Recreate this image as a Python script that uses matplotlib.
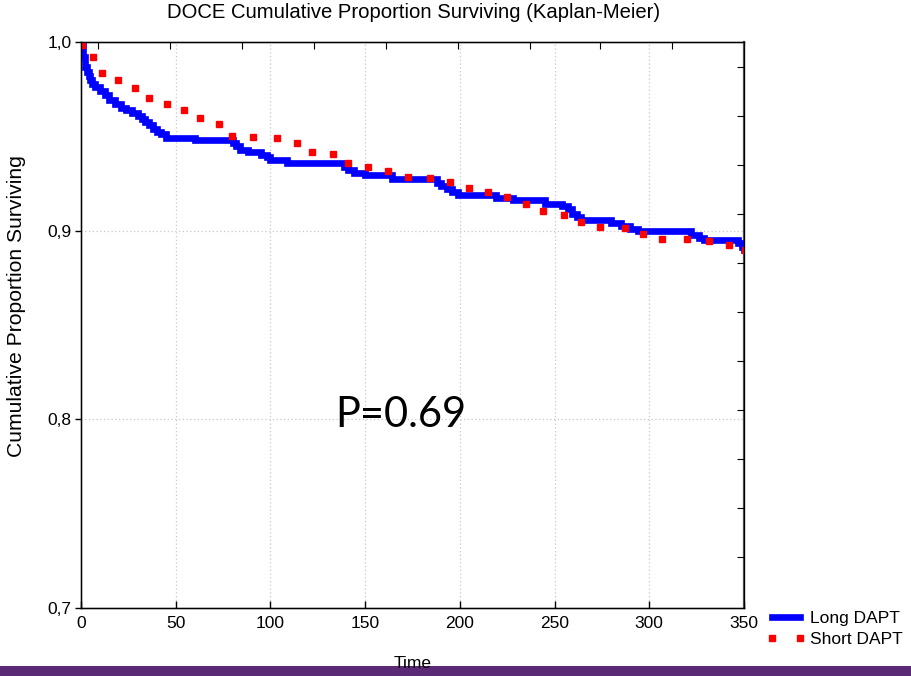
import matplotlib
matplotlib.use("Agg")
import matplotlib.pyplot as plt
from matplotlib.lines import Line2D
from matplotlib.patches import Rectangle
from matplotlib.ticker import FuncFormatter

plt.rcParams['font.family'] = ['Liberation Sans', 'DejaVu Sans']

# ---- data ----
long_t = [0, 1, 2, 3, 4, 5, 6, 7.5, 10, 12.5, 15, 18, 21, 24, 27, 30, 32, 34, 36, 38,
          40, 42, 45, 60, 80, 82, 84, 88, 95, 98, 100, 109, 139, 141, 144, 150, 164,
          188, 190, 193, 196, 199, 219, 228, 245, 254, 257, 259, 262, 264, 280, 285,
          290, 294, 322, 326, 329, 347, 349, 350]
long_s = [1.0, 0.992, 0.987, 0.984, 0.982, 0.980, 0.978, 0.976, 0.974, 0.972, 0.969,
          0.967, 0.965, 0.964, 0.9625, 0.961, 0.959, 0.9575, 0.956, 0.954, 0.9525,
          0.951, 0.949, 0.948, 0.9465, 0.945, 0.943, 0.9415, 0.940, 0.939, 0.9375,
          0.9358, 0.9335, 0.932, 0.9305, 0.9293, 0.9275, 0.9255, 0.9235, 0.922,
          0.9205, 0.919, 0.9175, 0.916, 0.914, 0.9132, 0.9115, 0.909, 0.907, 0.9055,
          0.9038, 0.9027, 0.901, 0.8998, 0.8978, 0.8962, 0.895, 0.8932, 0.8915, 0.890]

short_t = [0.4, 6.5, 10.9, 19.7, 28.5, 35.9, 45.2, 54.4, 62.8, 72.9, 79.6, 91, 103.3,
           113.9, 121.8, 133.2, 141.1, 151.7, 162.2, 172.5, 184.3, 194.8, 205, 214.7,
           224.8, 234.8, 244.1, 254.8, 263.7, 274.1, 287, 296.7, 306.8, 319.8, 331.4,
           342.1, 350.5]
short_s = [0.9984, 0.9922, 0.9834, 0.9799, 0.9755, 0.9702, 0.9672, 0.9637, 0.9596,
           0.9565, 0.9503, 0.9494, 0.949, 0.9464, 0.9416, 0.9406, 0.9358, 0.9335,
           0.9314, 0.9287, 0.9279, 0.9256, 0.9226, 0.9203, 0.9178, 0.9139, 0.9106,
           0.9083, 0.9044, 0.9017, 0.9012, 0.8981, 0.8958, 0.8958, 0.8945, 0.8924,
           0.890]

series_names = ["Long DAPT", "Short DAPT"]
x_ticks = [0, 50, 100, 150, 200, 250, 300, 350]
y_ticks = [0.7, 0.8, 0.9, 1.0]
top_ticks = [9, 47, 85, 123, 161, 199, 237, 274, 312]
right_ticks = [0.987, 0.961, 0.935, 0.909, 0.883, 0.857, 0.831, 0.805, 0.779, 0.753, 0.727]

W, H = 911, 676
fig = plt.figure(figsize=(W / 100, H / 100), dpi=100)
ax = fig.add_axes([81 / W, 1 - 608 / H, 663 / W, 566 / H])

ax.step(long_t, long_s, where='post', color='#0000ff', lw=4.8, zorder=3,
        solid_joinstyle='miter')
ax.plot(short_t, short_s, linestyle='none', marker='s', ms=5, color='#ff0000',
        mec='#ff0000', zorder=4)

ax.set_xlim(0, 350)
ax.set_ylim(0.7, 1.0)
ax.set_xticks(x_ticks)
ax.set_yticks(y_ticks)
ax.yaxis.set_major_formatter(FuncFormatter(lambda v, p: f"{v:.1f}".replace('.', ',')))
ax.tick_params(axis='x', direction='in', length=5, width=1, labelsize=12.5, pad=6)
ax.tick_params(axis='y', direction='out', length=4, width=1, labelsize=12.5, pad=3)
for s in ax.spines.values():
    s.set_linewidth(1.0)
ax.spines['right'].set_color('#555555')
ax.spines['right'].set_linewidth(1.6)

ax.grid(False)
for xv in [50, 100, 150, 200, 250, 300]:
    ax.axvline(xv, color='#c8c8c8', lw=0.9, ls=(0, (1, 2)), zorder=1)
for yv in [0.8, 0.9]:
    ax.axhline(yv, color='#c8c8c8', lw=0.9, ls=(0, (1, 2)), zorder=1)

# secondary unlabeled axes ticks
axt = ax.twiny()
axt.set_xlim(0, 350)
axt.set_xticks(top_ticks)
axt.tick_params(axis='x', direction='in', length=5, labeltop=False)
axr = ax.twinx()
axr.set_ylim(0.7, 1.0)
axr.set_yticks(right_ticks)
axr.tick_params(axis='y', direction='in', length=5, labelright=False)

ax.text(169, 0.8025, "P=0.69", fontsize=30, family=['Lato', 'DejaVu Sans'],
        ha='center', va='center', zorder=5)

fig.text(414 / W, 1 - 13 / H, "DOCE Cumulative Proportion Surviving (Kaplan-Meier)",
         ha='center', va='center', fontsize=14.6)
fig.text(17 / W, 1 - 306 / H, "Cumulative Proportion Surviving", rotation=90,
         ha='center', va='center', fontsize=15.2)

# bottom band
fig.patches.append(Rectangle((0, 0), 1, 10 / H, transform=fig.transFigure,
                             facecolor='#5b2a76', edgecolor='none', zorder=0))
fig.text(413 / W, 1 - 663 / H, "Time", ha='center', va='center', fontsize=12.5,
         zorder=5)

handles = [Line2D([], [], color='#0000ff', lw=4.8),
           Line2D([], [], color='#ff0000', linestyle='none', marker='s', ms=5)]
fig.legend(handles, series_names, loc='upper left',
           bbox_to_anchor=(767 / W, 1 - 611 / H), frameon=False, fontsize=12.5,
           handlelength=2.2, handletextpad=0.3, labelspacing=0.35, numpoints=2,
           borderaxespad=0, borderpad=0)

fig.savefig("out.png", dpi=100)
